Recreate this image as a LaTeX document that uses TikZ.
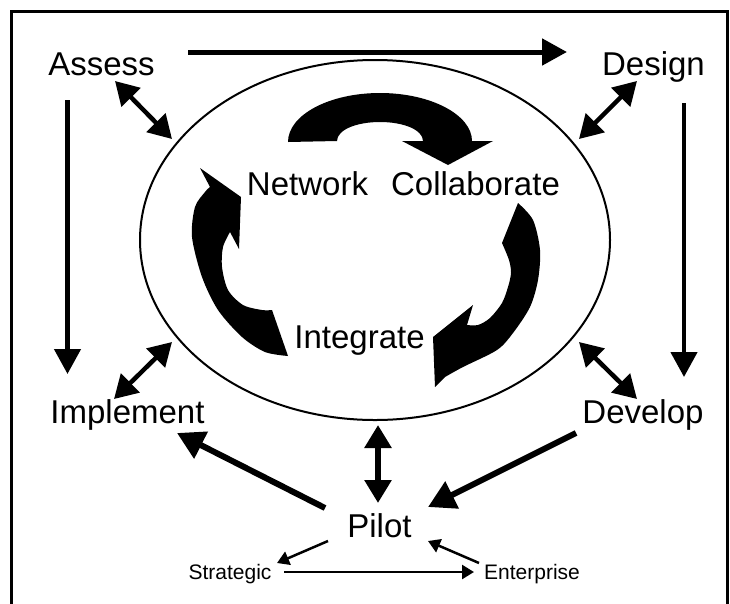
\documentclass[tikz,border=0pt]{standalone}
\usepackage{fontspec}
\setmainfont{Liberation Sans}
\usetikzlibrary{arrows.meta}
\usetikzlibrary{shapes.geometric}
\tikzstyle{stage}=[font=\fontsize{33}{38}\selectfont, inner sep=0pt, anchor=base]
\tikzstyle{substage}=[font=\fontsize{21}{25}\selectfont, inner sep=0pt, anchor=base]
\tikzstyle{flow}=[line width=5pt, -{Triangle[length=25pt,width=26pt]}]
\tikzstyle{heavyflow}=[line width=6pt, -{Triangle[length=27pt,width=29pt]}]
\tikzstyle{link}=[line width=4.5pt, {Triangle[length=23pt,width=26pt]}-{Triangle[length=23pt,width=26pt]}]
\tikzstyle{thinflow}=[line width=2.5pt, -{Triangle[length=12pt,width=14pt]}]
\tikzstyle{band}=[fill=black]

\begin{document}
\begin{tikzpicture}[x=1pt,y=-1pt]
  \useasboundingbox (0,0) rectangle (730,603);
  \draw[line width=3pt] (11,610) -- (11,11) -- (727,11) -- (727,610);

  % the cycle
  \node[ellipse, draw, line width=2pt, inner sep=0pt, minimum width=470pt, minimum height=360pt] (hub) at (375,240) {};
  \node[stage] (network) at (307.5,195) {Network};
  \node[stage] (collab) at (475.5,195) {Collaborate};
  \node[stage] (integrate) at (359.5,348) {Integrate};

  \fill[band] (288,142) .. controls (288,115) and (329,93) .. (380,93)
    .. controls (431,93) and (472,115) .. (472,141) -- (493,141) -- (448,165) -- (402,141) -- (423,141)
    .. controls (423,130) and (404,122) .. (380,122) .. controls (356,122) and (337,130) .. (337,141) -- cycle;
  \fill[band] (200,168) -- (241,197) -- (239,249) -- (230,232)
    -- plot[smooth] coordinates {(230,232) (223,247) (222,267) (228,290) (243,305) (262,310) (272,310)}
    -- (288,356)
    -- plot[smooth] coordinates {(288,356) (265,352) (242,337) (218,310) (202,277) (192,237) (195,207) (205,192) (210,187)}
    -- cycle;
  \fill[band] (518,203) -- (502,243)
    -- plot[smooth] coordinates {(502,243) (509,260) (511,273) (508,287) (502,303) (490,318) (478,325) (467,325)}
    -- (473,305) -- (433,337) -- (435,387) -- (445,377)
    -- plot[smooth] coordinates {(445,377) (463,367) (497,350) (513,333) (530,307) (538,280) (540,250) (533,220) (518,203)}
    -- cycle;

  % the stages
  \node[stage] (assess) at (101.5,75) {Assess};
  \node[stage] (design) at (653.5,75) {Design};
  \node[stage] (implement) at (127.5,423) {Implement};
  \node[stage] (develop) at (643,423) {Develop};
  \node[stage] (pilot) at (379.5,537) {Pilot};
  \node[substage] (strategic) at (230,579) {Strategic};
  \node[substage] (enterprise) at (532,579) {Enterprise};

  \coordinate (assess-e) at (188,52);
  \coordinate (design-w) at (567,52);
  \coordinate (assess-s) at (67.5,100);
  \coordinate (implement-n) at (67.5,374);
  \coordinate (design-s) at (684,103);
  \coordinate (develop-n) at (684,377);
  \coordinate (assess-se) at (115,81);
  \coordinate (hub-nw) at (172,139);
  \coordinate (design-sw) at (637,81);
  \coordinate (hub-ne) at (579,139);
  \coordinate (implement-ne) at (114,399);
  \coordinate (hub-sw) at (172,342);
  \coordinate (hub-se) at (579,342);
  \coordinate (develop-nw) at (637,399);
  \coordinate (hub-s) at (378,425);
  \coordinate (pilot-n) at (378,503);
  \coordinate (pilot-nw) at (325,508);
  \coordinate (implement-se) at (177,433);
  \coordinate (develop-sw) at (576,433);
  \coordinate (pilot-ne) at (428,507);
  \coordinate (pilot-sw) at (328,541);
  \coordinate (strategic-ne) at (277,563);
  \coordinate (enterprise-nw) at (479,563);
  \coordinate (pilot-se) at (428,541);
  \coordinate (strategic-e) at (284,572);
  \coordinate (enterprise-w) at (474,572);

  \draw[flow] (assess-e) -- (design-w);
  \draw[flow, line width=4.5pt] (assess-s) -- (implement-n);
  \draw[flow, line width=4.5pt] (design-s) -- (develop-n);
  \draw[link] (assess-se) -- (hub-nw);
  \draw[link] (design-sw) -- (hub-ne);
  \draw[link] (implement-ne) -- (hub-sw);
  \draw[link] (hub-se) -- (develop-nw);
  \draw[link, line width=6pt] (hub-s) -- (pilot-n);
  \draw[heavyflow] (pilot-nw) -- (implement-se);
  \draw[heavyflow] (develop-sw) -- (pilot-ne);
  \draw[thinflow] (pilot-sw) -- (strategic-ne);
  \draw[thinflow] (enterprise-nw) -- (pilot-se);
  \draw[thinflow] (strategic-e) -- (enterprise-w);
\end{tikzpicture}
\end{document}
